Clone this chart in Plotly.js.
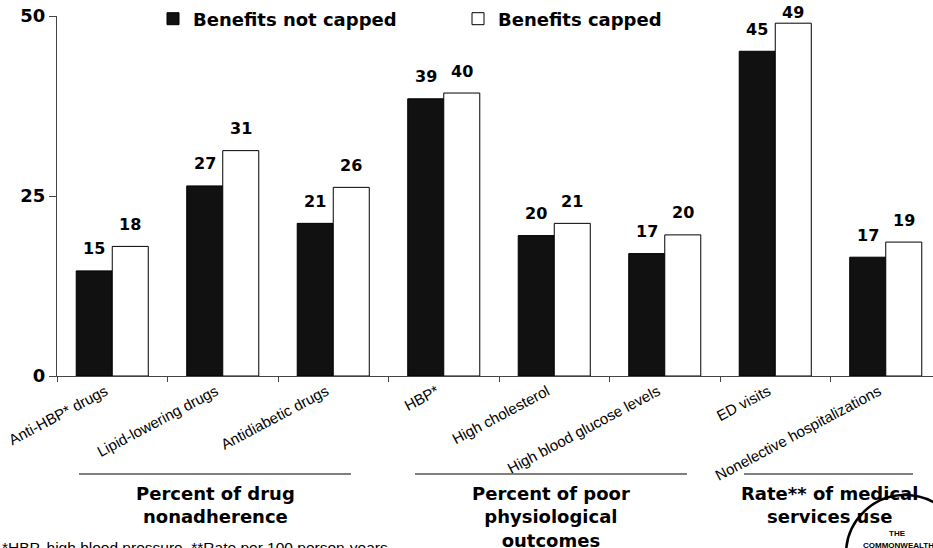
<!DOCTYPE html>
<html>
<head>
<meta charset="utf-8">
<script src="https://cdn.plot.ly/plotly-3.0.1.min.js"></script>
<style>html,body{margin:0;padding:0;background:#fff;}#chart{width:933px;height:548px;}</style>
</head>
<body>
<div id="chart"></div>
<script>
// ---- data ----
const categories = [
  "Anti-HBP* drugs", "Lipid-lowering drugs", "Antidiabetic drugs",
  "HBP*", "High cholesterol", "High blood glucose levels",
  "ED visits", "Nonelective hospitalizations"
];
const notCapped = [14.6, 26.4, 21.2, 38.5, 19.5, 17.0, 45.1, 16.5];
const capped    = [18.0, 31.3, 26.2, 39.3, 21.2, 19.6, 49.0, 18.6];
const notCappedLabels = ["15", "27", "21", "39", "20", "17", "45", "17"];
const cappedLabels    = ["18", "31", "26", "40", "21", "20", "49", "19"];
const seriesNames = ["Benefits not capped", "Benefits capped"];
const yTickVals = [0, 25, 50];
const groupTitles = [
  "Percent of drug<br>nonadherence",
  "Percent of poor<br>physiological<br>outcomes",
  "Rate** of medical<br>services use"
];
const footnote = "*HBP, high blood pressure. **Rate per 100 person-years.";

// ---- layout helpers ----
const W = 933, H = 548;
const M = {l: 57, r: 0, t: 16, b: 172};
const pw = W - M.l - M.r, ph = H - M.t - M.b;
const px = x => (x - M.l) / pw;
const py = y => (H - M.b - y) / ph;
const yMax = 50;
const valToPx = v => (H - M.b) - v / yMax * ph;

const boldFont = "DejaVu Sans, Arial, sans-serif";
const plainFont = "Liberation Sans, Arial, sans-serif";

const traces = [
  {type: "bar", name: seriesNames[0], x: categories, y: notCapped,
   marker: {color: "#111111", line: {color: "#000", width: 1}}, hoverinfo: "none"},
  {type: "bar", name: seriesNames[1], x: categories, y: capped,
   marker: {color: "#ffffff", line: {color: "#000", width: 1}}, hoverinfo: "none"}
];

const annotations = [];
function valueLabel(c, v, lab, xs) {
  const shift = Math.min(22, valToPx(v) - 12.5);
  annotations.push({x: c, y: v, xref: "x", yref: "y", text: "<b>" + lab + "</b>",
    showarrow: false, xshift: xs, yshift: shift, yanchor: "middle",
    font: {family: boldFont, size: 16, color: "#000"}});
}
categories.forEach((c, i) => {
  valueLabel(c, notCapped[i], notCappedLabels[i], -18);
  valueLabel(c, capped[i], cappedLabels[i], 18);
});

const groupCenters = [215, 551, 829];
groupTitles.forEach((t, i) => {
  annotations.push({x: px(groupCenters[i]), y: py(481), xref: "paper", yref: "paper",
    text: "<b>" + t + "</b>", showarrow: false, xanchor: "center", yanchor: "top",
    align: "center", font: {family: boldFont, size: 18, color: "#000"}});
});

annotations.push({x: px(0), y: py(537), xref: "paper", yref: "paper", text: footnote,
  showarrow: false, xanchor: "left", yanchor: "top",
  font: {family: plainFont, size: 15.5, color: "#000"}});

// logo text
annotations.push({x: px(897), y: py(533), xref: "paper", yref: "paper", text: "<b>THE</b>",
  showarrow: false, xanchor: "center", yanchor: "middle",
  font: {family: plainFont, size: 8, color: "#000"}});
annotations.push({x: px(898), y: py(545), xref: "paper", yref: "paper", text: "<b>COMMONWEALTH</b>",
  showarrow: false, xanchor: "center", yanchor: "middle",
  font: {family: plainFont, size: 8, color: "#000"}});

const groupLines = [[79, 351], [415, 687], [744, 913]];
const shapes = groupLines.map(g => ({type: "line", xref: "paper", yref: "paper",
  x0: px(g[0]), x1: px(g[1]), y0: py(474), y1: py(474), line: {color: "#000", width: 1}}));
shapes.push({type: "circle", xref: "paper", yref: "paper",
  x0: px(846), x1: px(964), y0: py(613), y1: py(495), line: {color: "#000", width: 2.5}});

const layout = {
  width: W, height: H,
  margin: M,
  paper_bgcolor: "#fff", plot_bgcolor: "#fff",
  barmode: "group", bargap: 0.348, bargroupgap: 0,
  showlegend: true,
  legend: {orientation: "h", x: px(153), y: py(19), xanchor: "left", yanchor: "middle",
    font: {family: boldFont, size: 18, color: "#000", weight: "bold"},
    entrywidth: 260, bgcolor: "rgba(0,0,0,0)", traceorder: "normal"},
  xaxis: {type: "category", range: [-0.5, -0.5 + pw / 110.5], showgrid: false, zeroline: false,
    showline: true, linecolor: "#444", linewidth: 1,
    ticks: "outside", ticklen: 5, tickcolor: "#444", tickson: "boundaries",
    tickangle: -28, ticklabelshift: -7,
    tickfont: {family: plainFont, size: 15, color: "#000"},
    automargin: false, fixedrange: true},
  yaxis: {range: [0, yMax], tickvals: yTickVals, ticktext: yTickVals.map(v => "<b>" + v + "</b>"),
    showgrid: false, zeroline: false, showline: true, linecolor: "#444", linewidth: 1,
    ticks: "outside", ticklen: 7, tickcolor: "#444",
    tickfont: {family: boldFont, size: 18, color: "#000"}, automargin: false, fixedrange: true},
  annotations: annotations,
  shapes: shapes
};

Plotly.newPlot("chart", traces, layout, {displayModeBar: false, staticPlot: true});
</script>
</body>
</html>
